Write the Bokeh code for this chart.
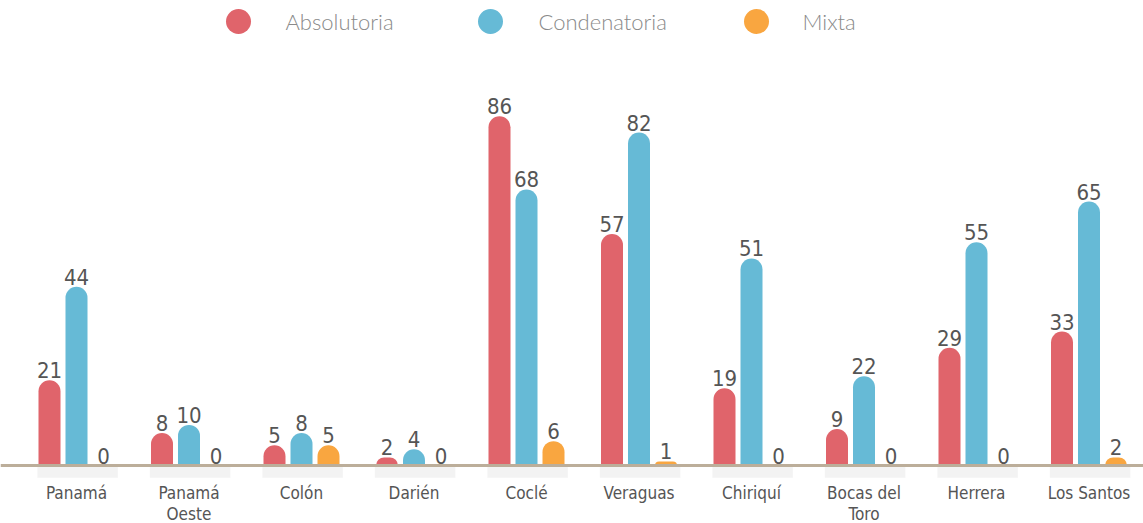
from bokeh.plotting import figure
from bokeh.models import Range1d, ColumnDataSource, Span
from bokeh.core.properties import value
from bokeh.embed import file_html
from bokeh.resources import INLINE

categories = ["Panamá", "Panamá\nOeste", "Colón", "Darién", "Coclé", "Veraguas",
              "Chiriquí", "Bocas del\nToro", "Herrera", "Los Santos"]
absolutoria = [21, 8, 5, 2, 86, 57, 19, 9, 29, 33]
condenatoria = [44, 10, 8, 4, 68, 82, 51, 22, 55, 65]
mixta = [0, 0, 5, 0, 6, 1, 0, 0, 0, 2]
series_names = ["Absolutoria", "Condenatoria", "Mixta"]
colors = ["#e0646b", "#66bad6", "#f9a640"]

W, H = 1143, 523
group_px = 112.5
ppu = 4.06  # pixels per unit value
x0 = -76 / group_px
x1 = x0 + W / group_px
y0 = -(H - 465) / ppu
y1 = y0 + H / ppu

def X(px):
    return x0 + px / group_px

def Y(py):
    return y1 - py / ppu

FONT = value("DejaVu Sans Condensed")
LFONT = value("Lato Light")

p = figure(width=W, height=H, x_range=Range1d(x0, x1), y_range=Range1d(y0, y1),
           output_backend="svg", toolbar_location=None, min_border=0,
           outline_line_color=None, background_fill_color="white", border_fill_color="white")
p.axis.visible = False
p.grid.visible = False

idx = list(range(len(categories)))
offset = 27 / group_px
bw = 22 / group_px

# faint shadows under each group
p.quad(left=[i - offset - bw / 2 - 0.01 for i in idx], right=[i + offset + bw / 2 + 0.03 for i in idx],
       bottom=[-3.0] * len(idx), top=[0] * len(idx), fill_color="#eeeeee", fill_alpha=0.7, line_color=None)

for k, vals in enumerate([absolutoria, condenatoria, mixta]):
    xs = [i + (k - 1) * offset for i in idx]
    src = ColumnDataSource(dict(x=xs, top=vals, lab=[str(v) for v in vals]))
    nz = ColumnDataSource(dict(x=[x for x, v in zip(xs, vals) if v > 0], top=[v for v in vals if v > 0]))
    p.vbar(x="x", top="top", bottom=0, width=bw, source=nz, fill_color=colors[k],
           line_color=None, border_radius=(11, 11, 0, 0))
    p.text(x="x", y="top", text="lab", source=src, text_align="center", text_baseline="bottom",
           y_offset=-2, text_font=FONT, text_font_size="22px", text_color="#555555")

p.add_layout(Span(location=0, dimension="width", line_color="#bcae9a", line_width=3))

p.text(x=idx, y=[Y(482)] * len(idx), text=categories, text_align="center", text_baseline="top",
       text_font=FONT, text_font_size="17px", text_color="#555555", text_line_height=1.05)

# legend
leg_circle_px = [238, 490, 756]
leg_text_px = [285, 538, 802]
p.scatter(x=[X(v) for v in leg_circle_px], y=[Y(21)] * 3, size=25, marker="circle",
          fill_color=colors, line_color=None)
p.text(x=[X(v) for v in leg_text_px], y=[Y(21)] * 3, text=series_names, text_align="left",
       text_baseline="middle", text_font=LFONT, text_font_size="22px", text_color="#8a8a8a")

open("out.html", "w").write(file_html(p, INLINE))
